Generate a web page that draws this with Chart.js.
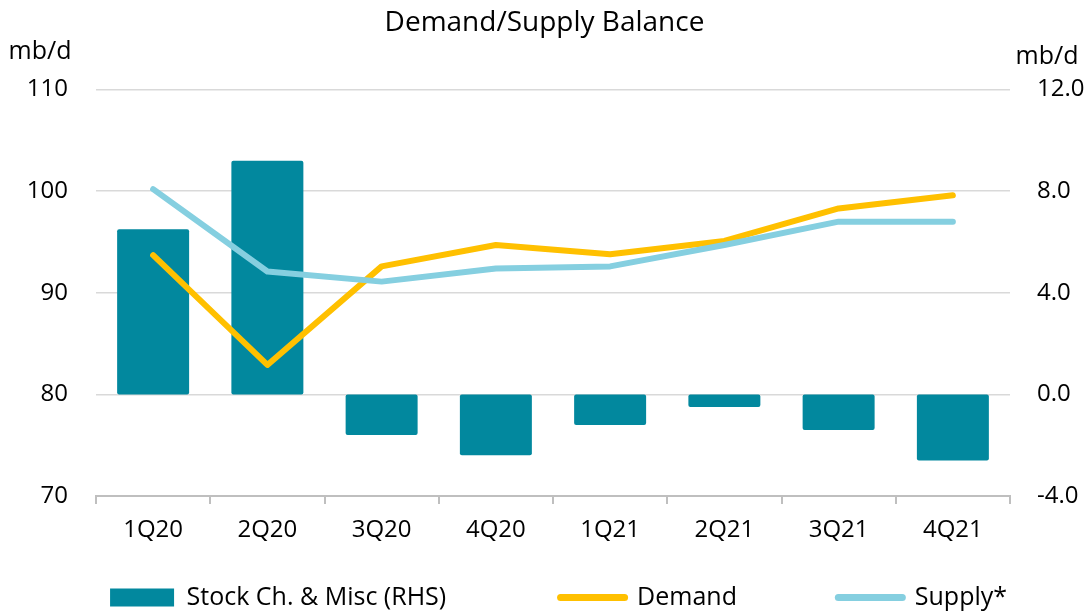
<!DOCTYPE html>
<html>
<head>
    <title>Demand/Supply Balance</title>
    <script src="https://cdn.jsdelivr.net/npm/chart.js"></script>
    <style>
        body {margin: 0; background: #fff;}
        #chart-container {width: 1089px; height: 614px;}
    </style>
</head>
<body>
    <div id="chart-container">
        <canvas id="chart" width="1089" height="614"></canvas>
    </div>

<script>
    var categories = ['1Q20', '2Q20', '3Q20', '4Q20', '1Q21', '2Q21', '3Q21', '4Q21'];
    var stockChange = [6.5, 9.2, -1.6, -2.4, -1.2, -0.5, -1.4, -2.6];   // RHS
    var demand = [93.7, 82.9, 92.6, 94.7, 93.8, 95.1, 98.3, 99.6];
    var supply = [100.2, 92.1, 91.1, 92.4, 92.6, 94.7, 97.0, 97.0];
    var leftTicks = [70, 80, 90, 100, 110];
    var rightTicks = [-4, 0, 4, 8, 12];

    var FONT = "'Open Sans', 'Noto Sans', sans-serif";
    var legendGaps = [17, 15, 12];  // trailing spaces after each legend text (spreads items out)

    // "mb/d" unit labels above both y axes
    var unitLabels = {
        id: 'unitLabels',
        afterDraw: function(chart) {
            var ctx = chart.ctx;
            ctx.save();
            ctx.font = '25px ' + FONT;
            ctx.fillStyle = '#000';
            ctx.textAlign = 'center';
            ctx.textBaseline = 'middle';
            ctx.fillText('mb/d', 40, 52);
            ctx.fillText('mb/d', 1047, 57);
            ctx.restore();
        }
    };

    var ctx = document.getElementById('chart').getContext('2d');
    var chart = new Chart(ctx, {
        type: 'bar',
        data: {
            labels: categories,
            datasets: [
                {
                    type: 'bar',
                    label: 'Stock Ch. & Misc (RHS)',
                    data: stockChange,
                    yAxisID: 'y1',
                    backgroundColor: '#02889E',
                    borderWidth: 0,
                    borderRadius: 2,
                    borderSkipped: false,
                    barPercentage: 0.63,
                    categoryPercentage: 1,
                    order: 3
                },
                {
                    type: 'line',
                    label: 'Demand',
                    data: demand,
                    yAxisID: 'y',
                    borderColor: '#FFC000',
                    backgroundColor: '#FFC000',
                    borderWidth: 6,
                    borderCapStyle: 'round',
                    borderJoinStyle: 'round',
                    pointRadius: 0,
                    fill: false,
                    order: 2
                },
                {
                    type: 'line',
                    label: 'Supply*',
                    data: supply,
                    yAxisID: 'y',
                    borderColor: '#85CFE0',
                    backgroundColor: '#85CFE0',
                    borderWidth: 6,
                    borderCapStyle: 'round',
                    borderJoinStyle: 'round',
                    pointRadius: 0,
                    fill: false,
                    order: 1
                }
            ]
        },
        options: {
            responsive: false,
            animation: false,
            layout: {
                padding: {left: 0, right: 0, top: 0, bottom: -6}
            },
            plugins: {
                title: {
                    display: true,
                    text: 'Demand/Supply Balance',
                    color: '#000',
                    font: {family: FONT, size: 28, weight: 'normal'},
                    padding: {top: 6, bottom: 50}
                },
                legend: {
                    position: 'bottom',
                    align: 'end',
                    labels: {
                        color: '#000',
                        font: {family: FONT, size: 25},
                        usePointStyle: true,
                        pointStyleWidth: 64,
                        boxHeight: 18,
                        padding: 4,
                        sort: function(a, b) { return a.datasetIndex - b.datasetIndex; },
                        generateLabels: function(chart) {
                            var items = Chart.defaults.plugins.legend.labels.generateLabels(chart);
                            items.forEach(function(item) {
                                var ds = chart.data.datasets[item.datasetIndex];
                                if (ds.type === 'bar') {
                                    item.pointStyle = 'rect';
                                    item.lineWidth = 0;
                                    item.strokeStyle = ds.backgroundColor;
                                } else {
                                    item.pointStyle = 'line';
                                    item.lineWidth = 7;
                                    item.lineCap = 'round';
                                }
                                item.text = item.text + ' '.repeat(legendGaps[item.datasetIndex]);
                            });
                            return items;
                        }
                    }
                },
                tooltip: {enabled: false}
            },
            scales: {
                x: {
                    offset: true,
                    grid: {
                        offset: true,
                        drawOnChartArea: false,
                        drawTicks: true,
                        tickLength: 8,
                        color: '#BFBFBF',
                        lineWidth: 2
                    },
                    border: {color: '#BFBFBF', width: 2},
                    ticks: {
                        color: '#000',
                        font: {family: FONT, size: 24},
                        padding: 12
                    },
                    afterFit: function(scale) { scale.height = 85; }
                },
                y: {
                    position: 'left',
                    min: 70,
                    max: 110,
                    afterBuildTicks: function(scale) {
                        scale.ticks = leftTicks.map(function(v) { return {value: v}; });
                    },
                    grid: {color: '#D9D9D9', lineWidth: 1.5, drawTicks: false},
                    border: {display: false},
                    ticks: {
                        color: '#000',
                        font: {family: FONT, size: 24},
                        padding: 28
                    },
                    afterFit: function(scale) { scale.width = 96; }
                },
                y1: {
                    position: 'right',
                    min: -4,
                    max: 12,
                    afterBuildTicks: function(scale) {
                        scale.ticks = rightTicks.map(function(v) { return {value: v}; });
                    },
                    grid: {display: false, drawTicks: false},
                    border: {display: false},
                    ticks: {
                        color: '#000',
                        font: {family: FONT, size: 24},
                        padding: 27,
                        callback: function(v) { return v.toFixed(1); }
                    },
                    afterFit: function(scale) { scale.width = 79; }
                }
            }
        },
        plugins: [unitLabels]
    });
</script>
</body>
</html>
